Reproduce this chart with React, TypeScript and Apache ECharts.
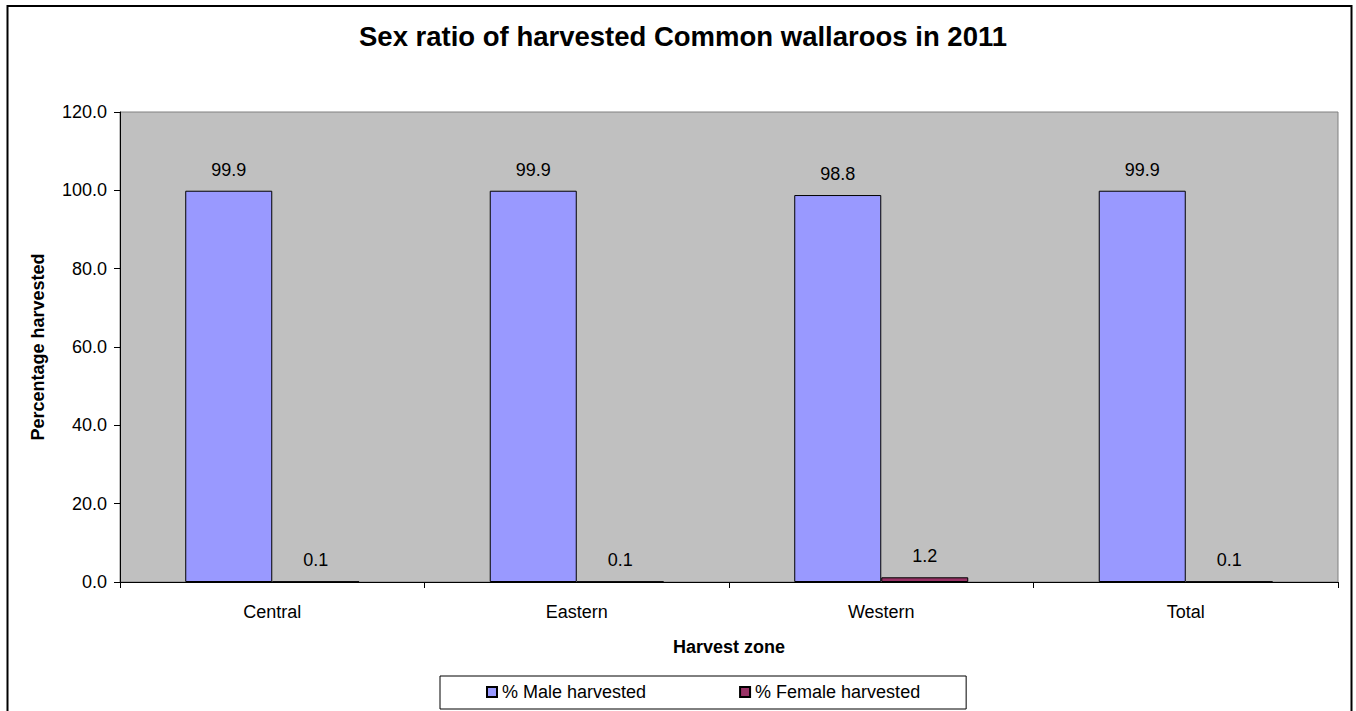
import React, { useEffect, useRef } from "react";
import * as echarts from "echarts";

// Harvest zones and the share of each sex among harvested Common wallaroos (2011)
const zones = ["Central", "Eastern", "Western", "Total"];
const malePct = [99.9, 99.9, 98.8, 99.9];
const femalePct = [0.1, 0.1, 1.2, 0.1];
const seriesNames = ["% Male harvested", "% Female harvested"];
const yMin = 0;
const yMax = 120;
const yStep = 20;

const FONT = "'Liberation Sans', Arial, Helvetica, sans-serif";

export default function App() {
  const ref = useRef<HTMLDivElement>(null);

  useEffect(() => {
    if (!ref.current) return;
    const chart = echarts.init(ref.current, null, { renderer: "svg" });

    const labelStyle = {
      show: true,
      position: "top" as const,
      distance: 12,
      color: "#000",
      fontFamily: FONT,
      fontSize: 18,
      formatter: (p: any) => Number(p.value).toFixed(1),
    };

    chart.setOption({
      animation: false,
      backgroundColor: "#ffffff",
      textStyle: { fontFamily: FONT, color: "#000" },
      title: {
        text: "Sex ratio of harvested Common wallaroos in 2011",
        left: 683,
        textAlign: "center",
        top: 22,
        padding: 0,
        textStyle: {
          fontFamily: FONT,
          fontSize: 27.5,
          fontWeight: "bold",
          color: "#000",
        },
      },
      graphic: [
        {
          type: "rect",
          silent: true,
          z: 100,
          shape: { x: 7.5, y: 6, width: 1344, height: 730 },
          style: { fill: "none", stroke: "#000", lineWidth: 2 },
        },
      ],
      legend: {
        data: seriesNames,
        left: 440,
        top: 676,
        padding: [7, 46, 8, 46],
        itemGap: 93,
        itemWidth: 10,
        itemHeight: 10,
        icon: "rect",
        borderColor: "#000",
        borderWidth: 1,
        textStyle: { fontFamily: FONT, fontSize: 18, color: "#000" },
      },
      grid: {
        left: 120,
        top: 112,
        width: 1218,
        height: 470,
        show: true,
        backgroundColor: "#C0C0C0",
        borderColor: "#808080",
        borderWidth: 1,
      },
      xAxis: {
        type: "category",
        data: zones,
        name: "Harvest zone",
        nameLocation: "middle",
        nameGap: 56,
        nameTextStyle: {
          fontFamily: FONT,
          fontSize: 18,
          fontWeight: "bold",
          color: "#000",
        },
        axisLine: { show: true, lineStyle: { color: "#000", width: 1 } },
        axisTick: { show: true, length: 6, lineStyle: { color: "#000" } },
        axisLabel: {
          margin: 21,
          fontFamily: FONT,
          fontSize: 18,
          color: "#000",
        },
        splitLine: { show: false },
      },
      yAxis: {
        type: "value",
        min: yMin,
        max: yMax,
        interval: yStep,
        name: "Percentage harvested",
        nameLocation: "middle",
        nameGap: 73,
        nameTextStyle: {
          fontFamily: FONT,
          fontSize: 18,
          fontWeight: "bold",
          color: "#000",
        },
        axisLine: { show: true, lineStyle: { color: "#000", width: 1 } },
        axisTick: { show: true, length: 6, lineStyle: { color: "#000" } },
        axisLabel: {
          margin: 13,
          fontFamily: FONT,
          fontSize: 18,
          color: "#000",
          formatter: (v: number) => v.toFixed(1),
        },
        splitLine: { show: false },
      },
      series: [
        {
          name: seriesNames[0],
          type: "bar",
          data: malePct,
          barGap: "0%",
          barCategoryGap: "42.857%",
          itemStyle: { color: "#9999FF", borderColor: "#000", borderWidth: 1 },
          label: labelStyle,
        },
        {
          name: seriesNames[1],
          type: "bar",
          data: femalePct,
          itemStyle: { color: "#993366", borderColor: "#000", borderWidth: 1 },
          label: labelStyle,
        },
      ],
    });

    return () => chart.dispose();
  }, []);

  return (
    <div
      ref={ref}
      style={{ position: "fixed", left: 0, top: 0, width: 1356, height: 711 }}
    />
  );
}
